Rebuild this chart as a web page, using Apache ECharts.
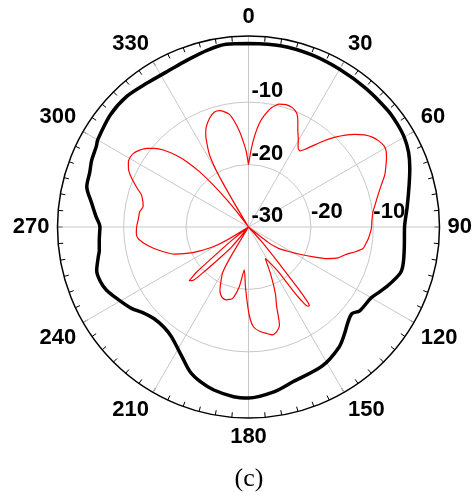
<!DOCTYPE html>
<html>
<head>
<meta charset="utf-8">
<script src="https://cdn.jsdelivr.net/npm/echarts@6/dist/echarts.min.js"></script>
<style>
  html, body { margin: 0; padding: 0; background: #fff; }
  #chart { width: 476px; height: 502px; }
</style>
</head>
<body>
<div id="chart"></div>
<script>
// 角度刻度 / 径向刻度
const angleTicks = [0, 30, 60, 90, 120, 150, 180, 210, 240, 270, 300, 330]
const radiusTicks = [-30, -20, -10]

// 黑线 (粗) - 近似全向
const blackAngles = [0, 10, 20, 30, 40, 50, 55, 60, 65, 70, 76, 83, 90, 98, 106, 112, 116, 120, 127, 130, 134, 138, 143, 152, 164, 171, 180, 185, 192, 197, 202, 207, 215, 220, 226, 231, 235, 241, 246, 250, 254, 259, 261, 265, 270, 274, 279, 284, 289, 293, 298, 300, 309, 317, 325, 332, 340, 347, 353, 360]
const blackValues = [-0.6, -0.5, -0.6, -0.8, -0.9, -0.9, -1.0, -1.2, -1.7, -2.5, -3.5, -4.4, -5.0, -4.8, -4.5, -5.6, -6.5, -7.3, -7.7, -8.4, -7.9, -7.0, -5.9, -4.8, -4.2, -3.3, -2.6, -2.7, -3.3, -4.0, -5.0, -6.6, -8.5, -9.0, -8.9, -8.2, -7.2, -6.1, -5.1, -4.7, -4.7, -5.5, -5.8, -6.0, -6.2, -5.5, -4.5, -3.3, -3.1, -2.7, -2.4, -2.1, -1.5, -1.4, -1.8, -1.9, -1.5, -0.9, -0.5, -0.6]

// 红线 (细) - 多瓣
const redAngles = [0, 2, 4, 6, 8, 11, 14, 17, 20, 23, 25, 27, 29.5, 32, 34, 36, 38, 41, 44, 46.5, 49, 51.5, 54, 56.5, 59, 61, 63.5, 66, 69, 72.5, 76, 80, 83, 87, 90.5, 93, 95.5, 98, 100.5, 103, 106, 109, 112, 115, 118, 121, 125.5, 128, 131,
  135, 138, 140, 141, 141.5, 142.2, 143.3, 144.3, 145, 146.3, 149, 152,
  155, 158, 160.5, 162.5, 165, 167.5, 170.3, 174, 177.2, 179, 180.5, 183, 185.6,
  188.8, 192.5, 196.9, 200, 202.4, 204.3, 207, 209.5, 211, 213,
  217, 220, 222.5, 225, 226.5, 227.8, 229, 230, 231.5, 233,
  236, 238.5, 240.8, 244, 246.9, 250, 253.8, 257.4, 261, 264.1, 267, 270.5, 274, 278, 281, 283.5, 286.7, 289, 291.5, 294, 296, 298.5, 300.5, 302.6, 305, 307.7, 310, 312.1, 314.5, 316.6, 318.5, 320, 321.5, 322.4, 324,
  328, 329, 329.7, 330.3, 331.5, 332.7, 335, 336.9, 340.3, 343.5, 346, 348, 350.4, 352.5, 354.6, 356.5, 358.3, 360]
const redValues = [-20, -17.5, -15.2, -13.3, -12, -10.5, -9.7, -9.5, -9.6, -10.2, -11.3, -12.6, -13.8, -15, -15.3, -14.6, -13.6, -11.8, -10.0, -8.6, -7.4, -6.3, -5.5, -5.0, -4.7, -4.8, -5.3, -5.9, -6.6, -7.7, -8.6, -9.4, -9.9, -10.2, -10.3, -10.5, -10.7, -11, -11.3, -12.4, -13.9, -14.8, -16.5, -18.8, -20.7, -22.3, -24.1, -26, -30,
  -30, -27, -22.5, -18, -15.5, -14.1, -14.2, -15.5, -17.2, -21.4, -23.3, -24.3,
  -21.5, -18.5, -16.5, -13.5, -12.6, -12.3, -12.7, -13.2, -14, -15.3, -17.2, -20.5, -23.1,
  -20.3, -18.3, -17.8, -17.9, -18.3, -18.9, -20.3, -21.6, -24.3, -30,
  -30, -26, -23.6, -19.5, -17.5, -17.2, -19, -23.5, -27, -30,
  -30, -26.5, -23.5, -21.2, -19.2, -17.3, -15.8, -14.4, -13.1, -12.2, -12.0, -12.1, -12.3, -12.4, -12.8, -12.6, -12.1, -11.2, -10.2, -9.2, -8.6, -8.1, -8.0, -8.1, -8.6, -9.4, -10.4, -11.6, -13.5, -15.6, -18.2, -21.2, -24.5, -26.9, -30,
  -30, -26, -22, -19.5, -17, -15.8, -13.8, -12.7, -11.5, -10.8, -10.8, -11.1, -11.7, -13, -14.6, -16.3, -17.9, -20]

const R_MIN = -30
const R_MAX = 0.6

const chart = echarts.init(document.getElementById('chart'))

const toPairs = (angles, values) => angles.map((a, i) => [Math.max(values[i], R_MIN), a])

const boldLabel = {
  fontFamily: 'Liberation Sans, Arial, sans-serif',
  fontWeight: 'bold',
  fontSize: 22,
  color: '#000'
}

const option = {
  animation: false,
  backgroundColor: '#fff',
  title: {
    text: '(c)',
    left: 244,
    top: 461,
    textAlign: 'center',
    textStyle: {
      fontFamily: 'Liberation Serif, Times New Roman, serif',
      fontWeight: 'normal',
      fontSize: 26,
      color: '#000'
    }
  },
  polar: [
    { center: [248.5, 227], radius: 191 },
    { center: [248.5, 227], radius: 191 }
  ],
  angleAxis: [
    {
      polarIndex: 0,
      type: 'value',
      min: 0,
      max: 360,
      interval: 30,
      startAngle: 90,
      clockwise: true,
      axisLine: { show: true, lineStyle: { color: '#000', width: 1.5 } },
      axisTick: { show: true, inside: true, length: 5, lineStyle: { color: '#000', width: 1 } },
      minorTick: { show: true, splitNumber: 6, length: 5, lineStyle: { color: '#000', width: 1 } },
      axisLabel: {
        ...boldLabel,
        margin: 8,
        formatter: v => (angleTicks.includes(v) ? String(v) : '')
      },
      splitLine: { show: true, lineStyle: { color: '#c8c8c8', width: 1 } }
    },
    {
      polarIndex: 1,
      type: 'value',
      min: 0,
      max: 360,
      startAngle: 0,
      clockwise: true,
      axisLine: { show: false },
      axisTick: { show: false },
      axisLabel: { show: false },
      splitLine: { show: false }
    }
  ],
  radiusAxis: [
    {
      polarIndex: 0,
      type: 'value',
      min: R_MIN,
      max: R_MAX,
      interval: 10,
      axisLine: { show: false },
      axisTick: { show: false },
      axisLabel: {
        ...boldLabel,
        margin: -3,
        align: 'left',
        verticalAlign: 'bottom',
        formatter: v => (radiusTicks.includes(v) ? String(v) : '')
      },
      splitLine: {
        show: true,
        lineStyle: { color: ['#c8c8c8', '#c8c8c8', '#c8c8c8', 'rgba(0,0,0,0)', 'rgba(0,0,0,0)'], width: 1 }
      }
    },
    {
      polarIndex: 1,
      type: 'value',
      min: R_MIN,
      max: R_MAX,
      interval: 10,
      axisLine: { show: false },
      axisTick: { show: false },
      axisLabel: {
        ...boldLabel,
        margin: 4,
        align: 'left',
        verticalAlign: 'bottom',
        formatter: v => (v === -20 || v === -10 ? String(v) : '')
      },
      splitLine: { show: false }
    }
  ],
  series: [
    {
      type: 'line',
      coordinateSystem: 'polar',
      polarIndex: 0,
      data: toPairs(blackAngles, blackValues),
      showSymbol: false,
      smooth: 0.3,
      lineStyle: { color: '#000', width: 3.5 },
      z: 3
    },
    {
      type: 'line',
      coordinateSystem: 'polar',
      polarIndex: 0,
      data: toPairs(redAngles, redValues),
      showSymbol: false,
      smooth: 0.2,
      lineStyle: { color: '#ff0000', width: 1.2 },
      z: 4
    }
  ]
}

chart.setOption(option)
</script>
</body>
</html>
